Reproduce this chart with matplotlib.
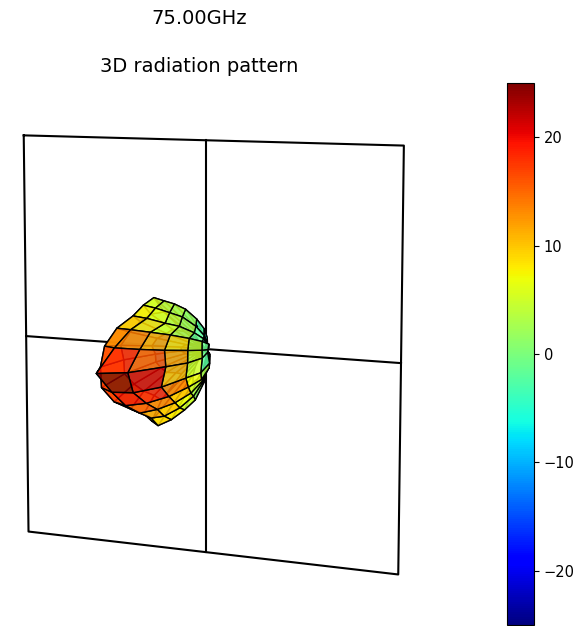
import numpy as np
import matplotlib
matplotlib.use("Agg")
import matplotlib.pyplot as plt
from matplotlib import cm
from matplotlib.colors import Normalize

# pattern table, gain in dB, rows = elevation, columns = azimuth
elevation = [45, 37.5, 30, 22.5, 15, 7.5, 0, -7.5, -15, -22.5, -30, -37.5, -45]
azimuth = [-45, -37.5, -30, -22.5, -15, -7.5, 0, 7.5, 15, 22.5, 30, 37.5, 45]
gain = [
    [-15, -15, -14, -12, -10, -8, -6, -7, -9, -12, -14, -15, -15],
    [-15, -13, -8, 0, 6, 5, 4, 2, -2, -6, -10, -13, -15],
    [-15, -12, -5, 3, 8, 7, 5, 3, -2, -7, -11, -13, -15],
    [-15, -12, -4, 5, 10, 9, 6, 4, -1, -6, -11, -13, -15],
    [-15, -10, -2, 7, 14, 14, 12, 9, 4, -1, -6, -12, -15],
    [-15, -9, -1, 9, 17, 19, 16, 12, 5, -1, -9, -13, -15],
    [-15, -9, -2, 8, 18, 25, 21, 11, 5, -2, -10, -14, -15],
    [-15, -10, -2, 8, 18, 20, 19, 14, 7, 3, -4, -11, -15],
    [-15, -11, -3, 6, 15, 16, 14, 10, 5, 1, -5, -11, -15],
    [-15, -12, -4, 4, 11, 12, 10, 7, 3, -2, -7, -12, -15],
    [-15, -13, -6, 2, 8, 9, 8, 5, 1, -4, -9, -13, -15],
    [-15, -13, -7, 1, 7, 8, 6, 3, 0, -5, -10, -13, -15],
    [-15, -15, -14, -12, -10, -8, -6, -7, -9, -12, -14, -15, -15],
]
gain_offset = 15
frame_size = 45
frame_ticks = [-45, 45]
cbar_ticks = [-20, -10, 0, 10, 20]
vmin, vmax = -25, 25

fig = plt.figure(figsize=(5.85, 6.26), dpi=100)
ax = fig.add_axes([-5.5 / 585, -7.5 / 626, 0.704, 0.891], projection="3d")
ax.computed_zorder = False

el = np.radians(elevation)
az = np.radians(azimuth)
az_g, el_g = np.meshgrid(az, el)
g = np.array(gain, dtype=float)
r = np.clip(g + gain_offset, 0, None)
x = r * np.cos(el_g) * np.cos(az_g)
y = r * np.cos(el_g) * np.sin(az_g)
z = r * np.sin(el_g)

norm = Normalize(vmin, vmax)
colors = cm.jet(norm(g))

# frame in the x=0 plane
lo, hi = frame_ticks
ax.plot([0, 0, 0, 0, 0], [lo, hi, hi, lo, lo], [hi, hi, lo, lo, hi], color="k", lw=1.5, zorder=1, clip_on=False)
ax.plot([0, 0], [lo, hi], [0, 0], color="k", lw=1.5, zorder=1, clip_on=False)
ax.plot([0, 0], [0, 0], [lo, hi], color="k", lw=1.5, zorder=1, clip_on=False)

ax.plot_surface(x, y, z, rstride=1, cstride=1, facecolors=colors, shade=False,
                edgecolor="k", linewidth=1.0, alpha=0.85, zorder=2)

ax.set_xlim(-frame_size, frame_size)
ax.set_ylim(-frame_size, frame_size)
ax.set_zlim(-frame_size, frame_size)
ax.set_box_aspect((1, 1, 1), zoom=1.70)
ax.set_proj_type("persp", focal_length=1.0)
ax.view_init(elev=8.5, azim=26)
ax.set_axis_off()

fig.text(199 / 585, 1 - 18 / 626, "75.00GHz", ha="center", va="center", fontsize=14)
fig.text(199 / 585, 1 - 66 / 626, "3D radiation pattern", ha="center", va="center", fontsize=14)

cax = fig.add_axes([507 / 585, 1 / 626, 27 / 585, 542 / 626])
cb = fig.colorbar(cm.ScalarMappable(norm=norm, cmap="jet"), cax=cax)
cb.set_ticks(cbar_ticks)
cb.ax.tick_params(labelsize=10.5)

fig.savefig("out.png", dpi=100)
